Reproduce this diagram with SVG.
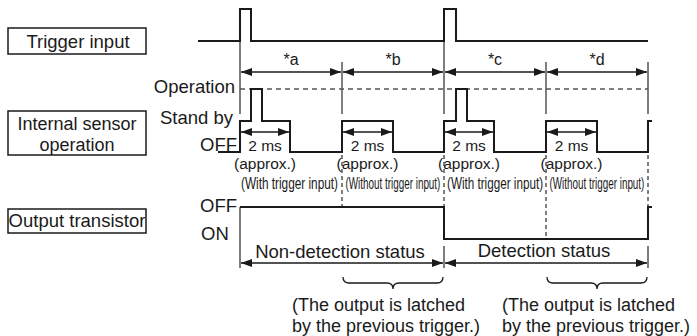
<svg xmlns="http://www.w3.org/2000/svg" width="697" height="336" viewBox="0 0 697 336">
<defs>
<style>
text{font-family:"Liberation Sans",Arial,Helvetica,sans-serif;fill:#1a1a1a}
.lbl{font-size:18.5px}
.two{font-size:18px}
.sm{font-size:16px}
.ms{font-size:15.5px}
.cond{font-size:17px}
.box{fill:#fff;stroke:#1a1a1a;stroke-width:1.5}
.wave{fill:none;stroke:#1a1a1a;stroke-width:2}
.guide{fill:none;stroke:#555;stroke-width:1.5}
.dash{fill:none;stroke:#555;stroke-width:1.5;stroke-dasharray:5 4}
.vdash{fill:none;stroke:#555;stroke-width:1.5;stroke-dasharray:4 3}
.dim{fill:none;stroke:#1a1a1a;stroke-width:1.5;marker-start:url(#ah);marker-end:url(#ah)}
.brace{fill:none;stroke:#1a1a1a;stroke-width:1.3}
</style>
<marker id="ah" viewBox="0 0 11 8" refX="11" refY="4" markerWidth="11" markerHeight="8" markerUnits="userSpaceOnUse" orient="auto-start-reverse">
<path d="M0,0 L11,4 L0,8 Z" fill="#1a1a1a"/>
</marker>
</defs>
<rect width="697" height="336" fill="#fff"/>

<g id="trigger-input">
<rect class="box" x="8" y="28" width="138" height="26"/>
<text class="lbl" x="78" y="48" text-anchor="middle">Trigger input</text>
</g>
<g id="internal-sensor">
<rect class="box" x="8" y="111" width="138" height="44"/>
<text class="two" x="77" y="130" text-anchor="middle">Internal sensor</text>
<text class="two" x="77" y="150.5" text-anchor="middle">operation</text>
</g>
<g id="output-transistor">
<rect class="box" x="8" y="209" width="138" height="24"/>
<text class="lbl" x="77" y="227" text-anchor="middle">Output transistor</text>
</g>

<g id="level-labels">
<text class="lbl" x="235" y="93" text-anchor="end">Operation</text>
<text class="lbl" x="233" y="124" text-anchor="end">Stand by</text>
<text class="lbl" x="237" y="151" text-anchor="end">OFF</text>
<text class="lbl" x="237" y="212" text-anchor="end">OFF</text>
<text class="lbl" x="201" y="240">ON</text>
</g>

<g id="connectors">
<path class="guide" d="M240,41 V114 M342,62 V114 M444,41 V114 M546,62 V114 M648,62 V114 M240,207 V268 M444,246 V268 M648,246 V268"/>
<path class="dash" d="M240,89 H648"/>
<path class="vdash" d="M342,155 V207 M444,155 V207 M546,155 V239 M648,155 V207"/>
<path class="wave" d="M198,41 H240 V9 H251 V41 H444 V9 H456 V41 H648"/>
<path class="wave" d="M218,152 H240 V121 H251 V89 H262 V121 H290 V152 H342 V121 H393 V152 H444 V121 H456 V89 H467 V121 H494 V152 H546 V121 H597 V152 H648 V121 H652"/>
<path class="wave" d="M240,207 H444 V239 H648 V207 H652"/>
<path class="dim" d="M241,72 H341"/>
<path class="dim" d="M343,72 H443"/>
<path class="dim" d="M445,72 H545"/>
<path class="dim" d="M547,72 H647"/>
<path class="dim" d="M241,132 H289"/>
<path class="dim" d="M343,132 H392"/>
<path class="dim" d="M445,132 H493"/>
<path class="dim" d="M547,132 H596"/>
<path class="dim" d="M241,263 H443"/>
<path class="dim" d="M445,263 H647"/>
<path class="brace" d="M343,277 Q343,283 349,283 H387 Q393,283 393,289 Q393,283 399,283 H437 Q443,283 443,277"/>
<path class="brace" d="M547,277 Q547,283 553,283 H591 Q597,283 597,289 Q597,283 603,283 H641 Q647,283 647,277"/>
</g>

<g id="period-labels">
<text class="sm" x="291" y="65" text-anchor="middle">*a</text>
<text class="sm" x="393" y="65" text-anchor="middle">*b</text>
<text class="sm" x="495" y="65" text-anchor="middle">*c</text>
<text class="sm" x="597" y="65" text-anchor="middle">*d</text>
</g>

<g id="pulse-labels">
<text class="ms" x="265" y="151" text-anchor="middle">2 ms</text>
<text class="ms" x="265" y="168.5" text-anchor="middle">(approx.)</text>
<text class="ms" x="367.5" y="151" text-anchor="middle">2 ms</text>
<text class="ms" x="367.5" y="168.5" text-anchor="middle">(approx.)</text>
<text class="ms" x="469" y="151" text-anchor="middle">2 ms</text>
<text class="ms" x="469" y="168.5" text-anchor="middle">(approx.)</text>
<text class="ms" x="571.5" y="151" text-anchor="middle">2 ms</text>
<text class="ms" x="571.5" y="168.5" text-anchor="middle">(approx.)</text>
</g>

<g id="trigger-conditions">
<text class="cond" transform="matrix(0.694,0,0,1,241,189)">(With trigger input)</text>
<text class="cond" transform="matrix(0.581,0,0,1,345.5,189)">(Without trigger input)</text>
<text class="cond" transform="matrix(0.687,0,0,1,447,189)">(With trigger input)</text>
<text class="cond" transform="matrix(0.581,0,0,1,549.5,189)">(Without trigger input)</text>
</g>

<g id="status-labels">
<text class="lbl" x="340" y="258" text-anchor="middle">Non-detection status</text>
<text class="lbl" x="544" y="257" text-anchor="middle">Detection status</text>
</g>

<g id="latch-notes">
<text class="two" x="292" y="311">(The output is latched</text>
<text class="two" x="292" y="331.5">by the previous trigger.)</text>
<text class="two" x="502" y="311">(The output is latched</text>
<text class="two" x="502" y="331.5">by the previous trigger.)</text>
</g>
</svg>
